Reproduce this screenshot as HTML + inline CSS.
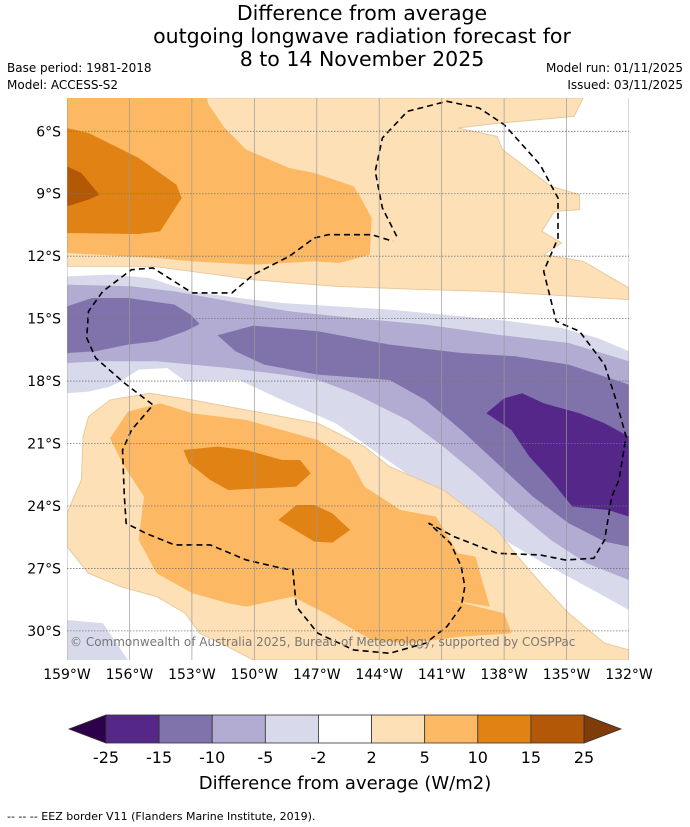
<!DOCTYPE html>
<html><head><meta charset="utf-8">
<style>
body{margin:0;background:#fff;width:690px;height:827px;overflow:hidden;font-family:"DejaVu Sans","Liberation Sans",sans-serif;}
svg{position:absolute;left:0;top:0}
</style></head>
<body>
<svg id="svg" width="690" height="827" viewBox="0 0 690 827">
<text x="362" y="20" font-size="20.5" text-anchor="middle">Difference from average</text>
<text x="362" y="43" font-size="20.5" text-anchor="middle">outgoing longwave radiation forecast for</text>
<text x="362" y="66" font-size="20.5" text-anchor="middle">8 to 14 November 2025</text>
<text x="7" y="72" font-size="12">Base period: 1981-2018</text>
<text x="7" y="89" font-size="12">Model: ACCESS-S2</text>
<text x="683" y="72" font-size="12" text-anchor="end">Model run: 01/11/2025</text>
<text x="683" y="89" font-size="12" text-anchor="end">Issued: 03/11/2025</text>

<defs><clipPath id="mc"><rect x="67" y="98" width="562" height="562"/></clipPath></defs>
<g clip-path="url(#mc)">
<rect x="67" y="98" width="562" height="562" fill="#fff"/>
<g transform="translate(67,98) scale(0.3584,0.3333)" stroke-linejoin="round">
<polygon fill="#fee0b6" stroke="#e8c9a0" stroke-width="1" vector-effect="non-scaling-stroke" points="390,0 1440,0 1415,55 1210,75 1090,90 1200,115 1215,155 1350,265 1430,290 1430,335 1360,340 1325,400 1380,435 1330,470 1440,490 1568,570 1568,605 1180,580 1000,575 750,565 520,545 345,520 240,505 0,505 0,0"/>
<polygon fill="#fdb863" points="0,0 390,0 395,20 440,90 500,155 620,210 690,225 800,265 820,300 850,360 845,470 760,495 690,490 520,500 350,490 250,480 170,475 0,465"/>
<polygon fill="#e08214" points="0,90 60,105 200,180 305,260 320,300 260,400 200,408 0,405"/>
<polygon fill="#b35806" points="0,205 40,225 90,290 60,305 0,325"/>
<polygon fill="#d8daeb" points="0,535 120,530 230,540 345,580 480,600 600,615 750,625 900,635 1050,650 1200,665 1380,690 1480,720 1568,760 1568,1536 1450,1466 1330,1396 1220,1326 1100,1246 1000,1166 880,1076 750,976 600,906 480,846 330,850 280,810 200,815 150,850 120,866 60,881 0,886"/>
<polygon fill="#b2abd2" points="0,560 180,565 300,580 480,615 620,640 800,660 1000,680 1200,710 1400,735 1568,790 1568,1446 1450,1396 1350,1326 1250,1236 1150,1136 1050,1046 950,966 800,886 700,846 600,830 450,810 350,800 250,790 100,790 0,795"/>
<polygon fill="#8073ac" points="0,625 70,600 170,600 300,620 345,650 370,678 330,700 250,730 170,740 80,760 0,765"/>
<polygon fill="#8073ac" points="420,712 520,683 700,700 900,740 1100,765 1250,775 1400,800 1568,860 1568,1346 1500,1331 1400,1276 1300,1196 1200,1096 1100,996 1000,906 900,846 700,830 550,800 470,760"/>
<polygon fill="#542788" points="1170,946 1220,901 1270,886 1330,916 1430,946 1500,976 1568,1016 1568,1256 1510,1236 1410,1226 1350,1146 1290,1076 1240,996"/>
<polygon fill="#fee0b6" stroke="#e8c9a0" stroke-width="1" vector-effect="non-scaling-stroke" points="60,956 120,906 230,886 350,906 500,936 700,976 830,1046 900,1106 1050,1176 1200,1296 1250,1366 1330,1466 1400,1546 1500,1636 1568,1656 1568,1686 520,1686 430,1636 370,1606 330,1546 250,1496 150,1466 60,1426 0,1346 0,1246 20,1196 40,1146 45,1016"/>
<polygon fill="#d8daeb" points="0,1566 100,1576 170,1686 0,1686"/>
<polygon fill="#fdb863" points="120,1021 170,941 260,916 350,946 500,966 700,1026 790,1086 830,1166 930,1236 1030,1256 1090,1366 1140,1376 1150,1416 1180,1526 1070,1506 1220,1546 1240,1606 1100,1616 950,1636 850,1626 720,1546 630,1496 500,1526 450,1516 350,1486 250,1426 200,1326 215,1196 160,1106"/>
<polygon fill="#e08214" points="325,1056 420,1046 500,1056 600,1086 650,1086 680,1126 640,1166 450,1176 400,1146 340,1096"/>
<polygon fill="#e08214" points="590,1266 640,1221 690,1221 740,1246 790,1296 740,1334 690,1331"/>
<polyline fill="none" stroke="#000" stroke-width="1.6" stroke-dasharray="6,4" vector-effect="non-scaling-stroke" points="920,415 880,330 860,220 880,120 950,40 1060,10 1150,30 1220,80 1320,200 1370,300 1370,420 1330,520 1365,670 1430,700 1500,800 1530,900 1560,1016 1540,1146 1520,1196 1500,1326 1470,1381 1390,1386 1320,1371 1200,1366 1080,1316 1010,1276 1070,1336 1100,1406 1110,1466 1100,1526 1060,1586 1000,1636 900,1666 800,1656 700,1606 640,1526 630,1416 600,1411 500,1386 400,1341 300,1341 220,1306 165,1276 160,1196 155,1056 180,996 240,921 160,855 80,780 55,720 60,640 100,580 180,515 240,510 350,585 460,585 520,530 620,475 690,420 730,410 850,410 910,430"/>
</g>
<g id="grid"></g>
<text x="70" y="646" font-size="12" fill="#777">© Commonwealth of Australia 2025, Bureau of Meteorology, supported by COSPPac</text>
</g>
<g id="axes" font-size="14"></g>
<g id="cbar"></g>
<text x="345" y="789" font-size="18" text-anchor="middle">Difference from average (W/m2)</text>
<text x="7" y="820" font-size="11">--  --  -- EEZ border V11 (Flanders Marine Institute, 2019).</text>
</svg>
<script>
const lonLabels=["159°W","156°W","153°W","150°W","147°W","144°W","141°W","138°W","135°W","132°W"];
const latLabels=["6°S","9°S","12°S","15°S","18°S","21°S","24°S","27°S","30°S"];
const latValues=[6,9,12,15,18,21,24,27,30];
const cbLevels=["-25","-15","-10","-5","-2","2","5","10","15","25"];
const cbColors=["#542788","#8073ac","#b2abd2","#d8daeb","#ffffff","#fee0b6","#fdb863","#e08214","#b35806"];
const NS="http://www.w3.org/2000/svg";
const x0=67,x1=629,lon0=-159,lon1=-132,yTop=98,lat0=4.4,lat1=31.4;
const xs=l=>x0+(l-lon0)/(lon1-lon0)*(x1-x0);
const ys=l=>yTop+(l-lat0)/(lat1-lat0)*562;
function mk(t,a,p){const e=document.createElementNS(NS,t);for(const k in a)e.setAttribute(k,a[k]);p.appendChild(e);return e;}
const grid=document.getElementById('grid'),axes=document.getElementById('axes');
lonLabels.forEach((s,i)=>{const x=xs(lon0+3*i);
 const l=mk('line',{x1:x,x2:x,y1:98,y2:660,stroke:'#999','stroke-width':0.7},grid);
 
 
 const t=mk('text',{x:x,y:679,'text-anchor':'middle'},axes);t.textContent=s;
 
 });
latLabels.forEach((s,i)=>{const y=ys(latValues[i]);
 const l=mk('line',{x1:67,x2:629,y1:y,y2:y,stroke:'#777','stroke-width':0.8,'stroke-dasharray':'1.5,1.5'},grid);
 
 
 const t=mk('text',{x:61,y:y+5,'text-anchor':'end'},axes);t.textContent=s;
 
 });
const cb=document.getElementById('cbar');
const cx0=106,cx1=584,cy=715,ch=28,sw=(cx1-cx0)/cbColors.length;
const lt=mk('polygon',{points:`${cx0},${cy} ${cx0},${cy+ch} 69,${cy+ch/2}`,fill:'#2d004b',stroke:'#333','stroke-width':0.8},cb);


const rt=mk('polygon',{points:`${cx1},${cy} ${cx1},${cy+ch} 621,${cy+ch/2}`,fill:'#7f3b08',stroke:'#333','stroke-width':0.8},cb);


cbColors.forEach((c,i)=>{const r=mk('rect',{x:cx0+i*sw,y:cy,width:sw,height:ch,fill:c,stroke:'#333','stroke-width':0.8},cb);
 
 });
cbLevels.forEach((s,i)=>{const t=mk('text',{x:cx0+i*sw,y:763,'text-anchor':'middle','font-size':16},cb);t.textContent=s;
 
 });
</script>
</body></html>
